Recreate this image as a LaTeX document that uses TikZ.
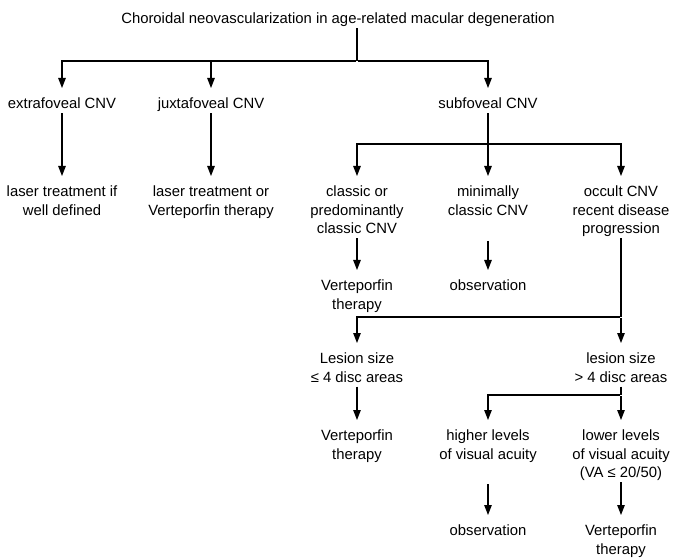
\documentclass[tikz,border=0pt]{standalone}
\usepackage{fontspec}
\setmainfont{Liberation Sans}
\usetikzlibrary{arrows.meta}
\begin{document}
\begin{tikzpicture}[x=1pt,y=-1pt,
  txt/.style={font=\fontsize{14.85}{18.5}\selectfont, align=center, inner sep=0pt, anchor=north,
    execute at begin node=\vphantom{lg}, execute at end node=\vphantom{lg}},
  ln/.style={line width=1.1pt, shorten <=1pt},
  arr/.style={ln, shorten >=10pt, -{Triangle[length=10pt,width=7.5pt]}}]
\useasboundingbox (0,0) rectangle (673,559);
\node[txt] (title) at (338,13) {Choroidal neovascularization in age-related macular degeneration};
\node[txt] (extra) at (62,98) {extrafoveal CNV};
\node[txt] (juxta) at (211,98) {juxtafoveal CNV};
\node[txt] (subf) at (488,98) {subfoveal CNV};
\node[txt] (laser1) at (62,186) {laser treatment if\\well defined};
\node[txt] (laser2) at (211,186) {laser treatment or\\Verteporfin therapy};
\node[txt] (classic) at (357,186) {classic or\\predominantly\\classic CNV};
\node[txt] (minimal) at (488,186) {minimally\\classic CNV};
\node[txt] (occult) at (621,186) {occult CNV\\recent disease\\progression};
\node[txt] (vert1) at (357,280) {Verteporfin\\therapy};
\node[txt] (obs1) at (488,280) {observation};
\node[txt] (lesA) at (357,353) {Lesion size\\≤ 4 disc areas};
\node[txt] (lesB) at (621,353) {lesion size\\> 4 disc areas};
\node[txt] (vert2) at (357,430) {Verteporfin\\therapy};
\node[txt] (higher) at (488,430) {higher levels\\of visual acuity};
\node[txt] (lower) at (621,430) {lower levels\\of visual acuity\\(VA ≤ 20/50)};
\node[txt] (obs2) at (488,525) {observation};
\node[txt] (vert3) at (621,525) {Verteporfin\\therapy};
\coordinate (j1) at (357,61);
\coordinate (j2) at (488,144);
\coordinate (j3) at (621,317);
\coordinate (j4) at (621,395);
\coordinate (m0) at (488,240);
\coordinate (h0) at (488,483);
\draw[ln] (title.south -| j1) -- (j1);
\draw[arr] (j1) -| (extra.north);
\draw[arr] (j1) -| (subf.north);
\draw[arr] (juxta.north |- j1) -- (juxta.north);
\draw[arr] (extra.south) -- (laser1.north);
\draw[arr] (juxta.south) -- (laser2.north);
\draw[arr] (subf.south) -- (minimal.north);
\draw[arr] (j2) -| (classic.north);
\draw[arr] (j2) -| (occult.north);
\draw[arr] (classic.south) -- (vert1.north);
\draw[arr] (m0) -- (obs1.north);
\draw[ln] (occult.south) -- (j3);
\draw[arr] (j3) -| (lesA.north);
\draw[arr] (j3) -- (lesB.north);
\draw[arr] (lesA.south) -- (vert2.north);
\draw[ln] (lesB.south) -- (j4);
\draw[arr] (j4) -| (higher.north);
\draw[arr] (j4) -- (lower.north);
\draw[arr] (h0) -- (obs2.north);
\draw[arr] (lower.south) -- (vert3.north);
\end{tikzpicture}
\end{document}
